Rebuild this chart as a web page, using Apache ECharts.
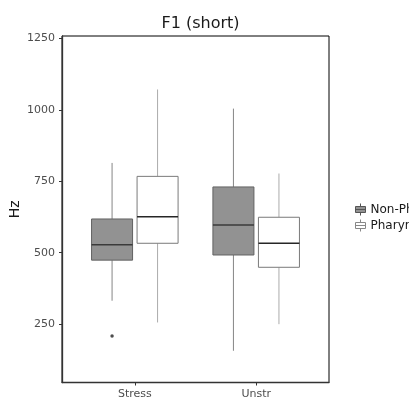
<!DOCTYPE html>
<html>
<head>
<meta charset="utf-8">
<style>html,body{margin:0;padding:0;background:#fff;}#c{width:409px;height:403px;}</style>
<script src="https://cdn.jsdelivr.net/npm/echarts@6/dist/echarts.min.js"></script>
</head>
<body>
<div id="c"></div>
<script>
var categories = ['Stress', 'Unstr'];
var seriesNames = ['Non-Pharyngeal', 'Pharyngeal'];
// [min, Q1, median, Q3, max] per category
var nonPharyngeal = [[332, 474, 528, 618, 814], [157, 492, 597, 730, 1004]];
var pharyngeal = [[256, 533, 626, 767, 1071], [250, 449, 533, 624, 777]];
// [categoryIndex, value]
var nonPharyngealOutliers = [[0, 209]];
var pharyngealOutliers = [];
var yTicks = [250, 500, 750, 1000, 1250];

var FONT = 'DejaVu Sans';
var DODGE = 0.1875, HALF = 0.169;
var styles = [
  {fill: '#929292', border: '#626262', median: '#3a3a3a', whisker: '#858585'},
  {fill: '#ffffff', border: '#7a7a7a', median: '#262626', whisker: '#ababab'}
];

function makeRender(si) {
  return function (params, api) {
    var x = api.value(0) + 1 + (si === 0 ? -DODGE : DODGE);
    var v = [api.value(1), api.value(2), api.value(3), api.value(4), api.value(5)];
    var st = styles[si];
    var pMin = api.coord([x, v[0]]), pQ1 = api.coord([x, v[1]]), pMed = api.coord([x, v[2]]),
        pQ3 = api.coord([x, v[3]]), pMax = api.coord([x, v[4]]);
    var l = api.coord([x - HALF, v[1]])[0], r = api.coord([x + HALF, v[1]])[0];
    return {
      type: 'group',
      children: [
        {type: 'line', shape: {x1: pMax[0], y1: pMax[1], x2: pQ3[0], y2: pQ3[1]}, style: {stroke: st.whisker, lineWidth: 1}},
        {type: 'line', shape: {x1: pQ1[0], y1: pQ1[1], x2: pMin[0], y2: pMin[1]}, style: {stroke: st.whisker, lineWidth: 1}},
        {type: 'rect', shape: {x: l, y: pQ3[1], width: r - l, height: pQ1[1] - pQ3[1]}, style: {fill: st.fill, stroke: st.border, lineWidth: 1}},
        {type: 'line', shape: {x1: l, y1: pMed[1], x2: r, y2: pMed[1]}, style: {stroke: st.median, lineWidth: 1.5}}
      ]
    };
  };
}

function toData(arr) {
  return arr.map(function (d, i) { return [i].concat(d); });
}
function outlierData(arr, si) {
  return arr.map(function (o) { return [o[0] + 1 + (si === 0 ? -DODGE : DODGE), o[1]]; });
}

var iconPath = 'path://M5,0L5,3M0,3L10,3L10,9L0,9ZM0,6L10,6M5,9L5,12';

var chart = echarts.init(document.getElementById('c'), null, {renderer: 'canvas'});
chart.setOption({
  animation: false,
  backgroundColor: '#ffffff',
  title: {
    text: 'F1 (short)', left: 195.5, top: 11, textAlign: 'center',
    textStyle: {fontFamily: FONT, fontSize: 16, fontWeight: 'normal', color: '#1a1a1a'}
  },
  legend: {
    orient: 'vertical', left: 355, top: 203, itemWidth: 10, itemHeight: 12, itemGap: 3, padding: 0,
    textStyle: {fontFamily: FONT, fontSize: 12, color: '#1a1a1a'},
    data: [
      {name: seriesNames[0], icon: iconPath, itemStyle: {color: '#929292', borderColor: '#555', borderWidth: 1}},
      {name: seriesNames[1], icon: iconPath, itemStyle: {color: '#ffffff', borderColor: '#888', borderWidth: 1}}
    ]
  },
  grid: {left: 62, right: 80, top: 36, bottom: 20.5, show: true, borderColor: '#000', borderWidth: 1,
    containLabel: false, outerBoundsMode: 'none'},
  xAxis: {
    type: 'value', min: 0.4, max: 2.6,
    axisLine: {show: true, lineStyle: {color: '#333', width: 1.3}},
    axisTick: {show: true, customValues: [1, 2], length: 3, lineStyle: {color: '#333'}},
    axisLabel: {customValues: [1, 2], margin: 6, fontFamily: FONT, fontSize: 11, color: '#4d4d4d',
      formatter: function (v) { return categories[Math.round(v) - 1]; }},
    splitLine: {show: false}
  },
  yAxis: {
    type: 'value', min: 46, max: 1258,
    name: 'Hz', nameLocation: 'middle', nameGap: 40, nameRotate: 90, nameMoveOverlap: false,
    nameTextStyle: {fontFamily: FONT, fontSize: 14, color: '#1a1a1a'},
    axisLine: {show: true, lineStyle: {color: '#333', width: 1.3}},
    axisTick: {show: true, customValues: yTicks, length: 3, lineStyle: {color: '#333'}},
    axisLabel: {customValues: yTicks, margin: 7, fontFamily: FONT, fontSize: 11, color: '#4d4d4d',
      formatter: function (v) { return String(v); }},
    splitLine: {show: false}
  },
  series: [
    {name: seriesNames[0], type: 'custom', renderItem: makeRender(0), data: toData(nonPharyngeal),
      itemStyle: {color: '#929292'}, encode: {x: 0, y: [1, 2, 3, 4, 5]}},
    {name: seriesNames[1], type: 'custom', renderItem: makeRender(1), data: toData(pharyngeal),
      itemStyle: {color: '#ffffff'}, encode: {x: 0, y: [1, 2, 3, 4, 5]}},
    {name: seriesNames[0], type: 'scatter', data: outlierData(nonPharyngealOutliers, 0), symbolSize: 3.5,
      itemStyle: {color: '#222'}},
    {name: seriesNames[1], type: 'scatter', data: outlierData(pharyngealOutliers, 1), symbolSize: 3.5,
      itemStyle: {color: '#222'}}
  ]
});
</script>
</body>
</html>
